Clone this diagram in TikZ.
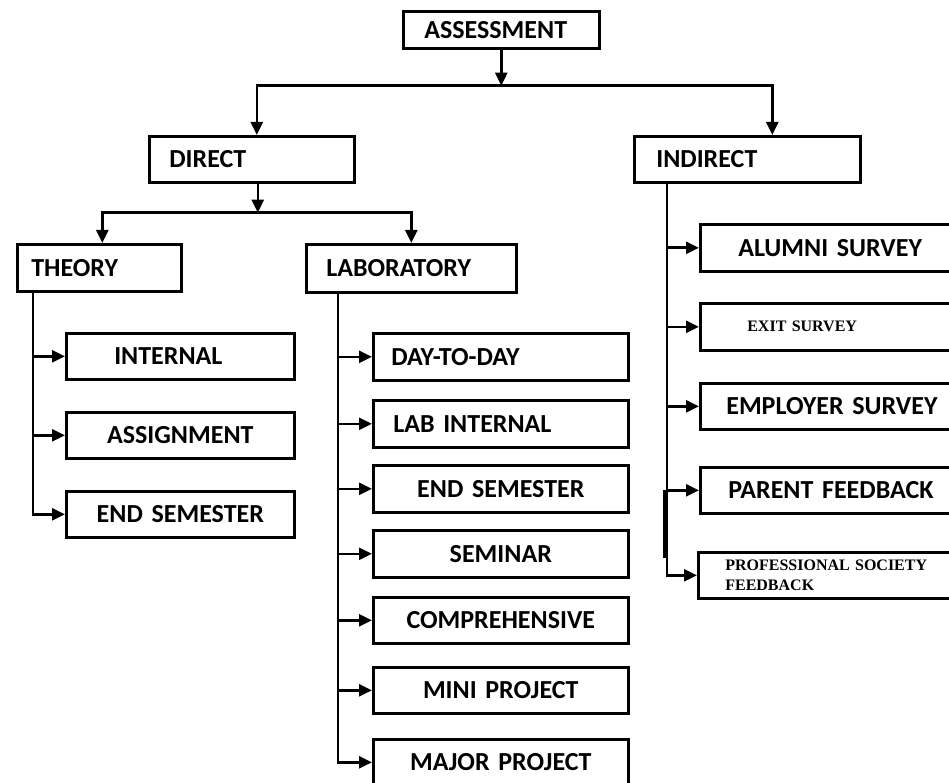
\documentclass[tikz,border=0pt]{standalone}
\usepackage{fontspec}
\setmainfont{Carlito}
\newfontfamily\timesfont{Liberation Serif}
\usetikzlibrary{arrows.meta}

\tikzset{
  box/.style={draw, line width=2.6pt, anchor=north west, inner ysep=0pt, minimum height=46pt,
    font=\bfseries\fontsize{26}{29}\selectfont},
  lbox/.style={box, align=left, inner xsep=#1},
  cbox/.style={box, align=center, inner xsep=0pt},
  serifbox/.style={font=\timesfont\bfseries\fontsize{16}{20}\selectfont},
  arr/.style={line width=2.6pt, -{Triangle[length=13pt,width=12pt]}}
}

\begin{document}
\begin{tikzpicture}[x=1pt,y=-1pt]
    \useasboundingbox (0,0) rectangle (949,783);
    \clip (0,0) rectangle (949,783);

    \node[lbox=21pt, text width=154pt, minimum height=37pt] (assess) at (402,10) {ASSESSMENT};
    \node[lbox=20pt, text width=165pt] (direct) at (148,135) {DIRECT};
    \node[lbox=22pt, text width=182pt] (indirect) at (633,135) {INDIRECT};
    \node[lbox=14pt, text width=136pt, minimum height=47pt] (theory) at (16,243) {THEORY};
    \node[lbox=20pt, text width=170pt, minimum height=48pt] (lab) at (305,243) {LABORATORY};

    \node[lbox=48pt, text width=132pt] (internal) at (65,332) {INTERNAL};
    \node[cbox, text width=228pt] (assign) at (65,411) {ASSIGNMENT};
    \node[cbox, text width=228pt] (endsemth) at (65,490) {END SEMESTER};

    \node[lbox=18pt, text width=219pt, minimum height=47pt] (daytoday) at (372,332) {DAY-TO-DAY};
    \node[lbox=20pt, text width=215pt, minimum height=47pt] (labint) at (372,399) {LAB INTERNAL};
    \node[cbox, text width=255pt, minimum height=47pt] (endsemlab) at (372,464) {END SEMESTER};
    \node[cbox, text width=255pt, minimum height=47pt] (seminar) at (372,529) {SEMINAR};
    \node[cbox, text width=255pt] (compre) at (372,596) {COMPREHENSIVE};
    \node[cbox, text width=255pt] (mini) at (372,666) {MINI PROJECT};
    \node[cbox, text width=255pt] (major) at (372,738) {MAJOR PROJECT};

    \node[lbox=38pt, text width=224pt, minimum height=47pt] (alumni) at (699,223) {ALUMNI SURVEY};
    \node[lbox=47pt, text width=206pt, minimum height=47pt, serifbox] (exit) at (699,302) {EXIT SURVEY};
    \node[lbox=26pt, text width=248pt] (employer) at (699,382) {EMPLOYER SURVEY};
    \node[lbox=28pt, text width=244pt] (parent) at (699,466) {PARENT FEEDBACK};
    \node[lbox=27pt, text width=246pt, serifbox] (profsoc) at (697,551) {PROFESSIONAL SOCIETY\\FEEDBACK};

    \coordinate (j1) at ([yshift=-36pt]assess.south);
    \coordinate (j2) at ([xshift=6pt,yshift=-29pt]direct.south);
    \draw[arr] (assess.south) -- (j1);
    \draw[arr] (j1) -| ([xshift=5pt]direct.north);
    \draw[arr] (j1) -| ([xshift=25pt]indirect.north);
    \draw[arr] ([xshift=6pt]direct.south) -- (j2);
    \draw[arr] (j2) -| ([xshift=3pt]theory.north);
    \draw[arr] (j2) -| (lab.north);

    \coordinate (tth) at ([xshift=17pt]theory.south west);
    \draw[arr] (tth) |- (endsemth.west);
    \foreach \n in {internal,assign}
        \draw[arr] (tth |- \n.west) -- (\n.west);

    \coordinate (tlab) at ([xshift=33pt]lab.south west);
    \draw[arr] (tlab) |- (major.west);
    \foreach \n in {daytoday,labint,endsemlab,seminar,compre,mini}
        \draw[arr] (tlab |- \n.west) -- (\n.west);

    \coordinate (tind) at ([xshift=34pt]indirect.south west);
    \coordinate (pj) at (tind |- parent.west);
    \draw[arr] (tind) |- (profsoc.west);
    \foreach \n in {alumni,exit,employer,parent}
        \draw[arr] (tind |- \n.west) -- (\n.west);
    \draw[line width=5pt] ([xshift=-2pt]pj) -- ([xshift=-2pt,yshift=-68pt]pj);
\end{tikzpicture}
\end{document}
